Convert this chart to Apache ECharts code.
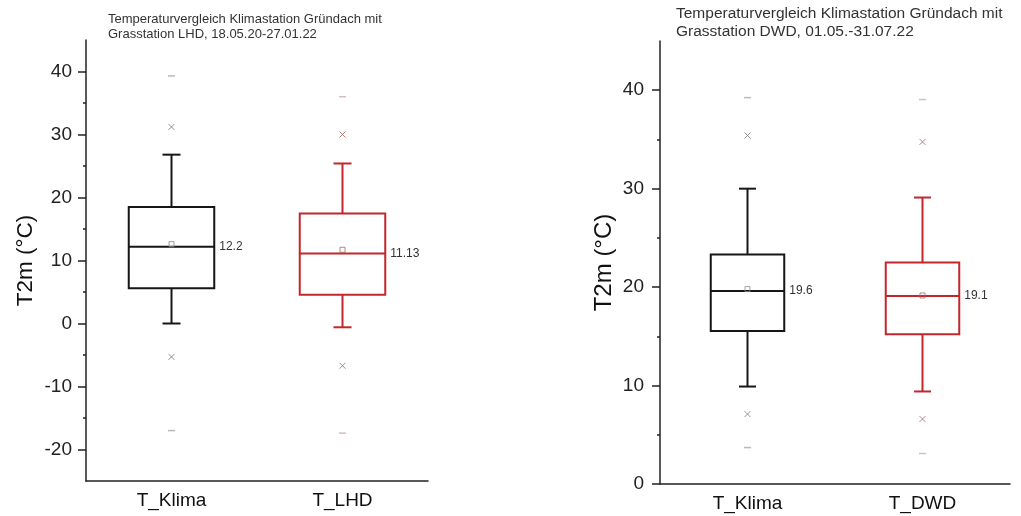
<!DOCTYPE html>
<html>
<head>
<meta charset="utf-8">
<script src="https://cdn.jsdelivr.net/npm/echarts@6/dist/echarts.min.js"></script>
<style>
html,body{margin:0;padding:0;background:#fff;}
#chart{width:1021px;height:516px;}
</style>
</head>
<body>
<div id="chart"></div>
<script>
// ---------- data ----------
const leftTitle = 'Temperaturvergleich Klimastation Gründach mit\nGrasstation LHD, 18.05.20-27.01.22';
const rightTitle = 'Temperaturvergleich Klimastation Gründach mit\nGrasstation DWD, 01.05.-31.07.22';
const yName = 'T2m (°C)';

const leftCategories = ['T_Klima', 'T_LHD'];
// [whiskerLow, Q1, median, Q3, whiskerHigh]
const leftStats = [[0, 5.6, 12.2, 18.5, 26.8], [-0.6, 4.55, 11.13, 17.45, 25.4]];
const leftMeans = [12.6, 11.7];
const leftCrossHigh = [31.2, 30.0];
const leftCrossLow = [-5.3, -6.7];
const leftDashHigh = [39.3, 36.0];
const leftDashLow = [-17.0, -17.4];
const leftMedianLabels = ['12.2', '11.13'];
const leftMajorTicks = [-20, -10, 0, 10, 20, 30, 40];
const leftMinorTicks = [-15, -5, 5, 15, 25, 35];

const rightCategories = ['T_Klima', 'T_DWD'];
const rightStats = [[9.9, 15.55, 19.6, 23.3, 30.0], [9.4, 15.2, 19.1, 22.5, 29.1]];
const rightMeans = [19.8, 19.15];
const rightCrossHigh = [35.4, 34.75];
const rightCrossLow = [7.1, 6.6];
const rightDashHigh = [39.25, 39.05];
const rightDashLow = [3.7, 3.1];
const rightMedianLabels = ['19.6', '19.1'];
const rightMajorTicks = [0, 10, 20, 30, 40];
const rightMinorTicks = [5, 15, 25, 35];

// ---------- styles ----------
const boxColors = ['#161616', '#c1272d'];
const crossColors = ['#7a7a7a', '#a86464'];
const dashColors = ['#a8a8a8', '#d4aaaa'];
const meanColors = ['#8a8a8a', '#a86464'];
const FONT = '"Liberation Sans", Arial, sans-serif';
const AXIS_COLOR = '#222';

function makeBoxRenderer(labels, boxFrac, capW) {
  return function (params, api) {
    const x = api.value(0);
    const pLo = api.coord([x, api.value(1)]);
    const pQ1 = api.coord([x, api.value(2)]);
    const pMed = api.coord([x, api.value(3)]);
    const pQ3 = api.coord([x, api.value(4)]);
    const pHi = api.coord([x, api.value(5)]);
    const bw = api.size([1, 0])[0] * boxFrac;
    const cx = pMed[0];
    const color = boxColors[params.dataIndex];
    const st = { stroke: color, lineWidth: 2, fill: null };
    return {
      type: 'group',
      children: [
        { type: 'line', shape: { x1: cx, y1: pHi[1], x2: cx, y2: pQ3[1] }, style: st },
        { type: 'line', shape: { x1: cx, y1: pQ1[1], x2: cx, y2: pLo[1] }, style: st },
        { type: 'line', shape: { x1: cx - capW / 2, y1: pHi[1], x2: cx + capW / 2, y2: pHi[1] }, style: st },
        { type: 'line', shape: { x1: cx - capW / 2, y1: pLo[1], x2: cx + capW / 2, y2: pLo[1] }, style: st },
        { type: 'rect', shape: { x: cx - bw / 2, y: pQ3[1], width: bw, height: pQ1[1] - pQ3[1] },
          style: { stroke: color, lineWidth: 2, fill: 'rgba(0,0,0,0)' } },
        { type: 'line', shape: { x1: cx - bw / 2, y1: pMed[1], x2: cx + bw / 2, y2: pMed[1] }, style: st },
        { type: 'text', x: cx + bw / 2 + 5, y: pMed[1],
          style: { text: labels[params.dataIndex], fill: '#333', font: '12px ' + FONT,
                   textAlign: 'left', textVerticalAlign: 'middle' } }
      ]
    };
  };
}

function scatterSeries(idx, values, colors, symbol, size, fillMode) {
  return {
    type: 'scatter', xAxisIndex: idx, yAxisIndex: idx * 2,
    symbol: symbol, symbolSize: size, silent: true, z: 5,
    data: values.map((v, i) => ({
      value: [i, v],
      itemStyle: fillMode === 'stroke'
        ? { color: 'rgba(0,0,0,0)', borderColor: colors[i], borderWidth: 1 }
        : { color: colors[i] }
    }))
  };
}

function seriesFor(idx, stats, means, crossHi, crossLo, dashHi, dashLo, labels, boxFrac, capW) {
  const crossPath = 'path://M0,0L10,10M10,0L0,10';
  return [
    {
      type: 'custom', xAxisIndex: idx, yAxisIndex: idx * 2,
      renderItem: makeBoxRenderer(labels, boxFrac, capW),
      encode: { x: 0, y: [1, 2, 3, 4, 5] },
      data: stats.map((s, i) => [i].concat(s)), z: 3
    },
    scatterSeries(idx, means, meanColors, 'rect', 5, 'stroke'),
    scatterSeries(idx, crossHi, crossColors, crossPath, 6, 'stroke'),
    scatterSeries(idx, crossLo, crossColors, crossPath, 6, 'stroke'),
    scatterSeries(idx, dashHi, dashColors, 'rect', [7, 1.5], 'fill'),
    scatterSeries(idx, dashLo, dashColors, 'rect', [7, 1.5], 'fill')
  ];
}

function yAxesFor(gridIndex, min, max, majors, minors, nameGap, labelMargin, nameSize) {
  return [
    {
      type: 'value', gridIndex: gridIndex, min: min, max: max, position: 'left',
      name: yName, nameLocation: 'middle', nameGap: nameGap, nameRotate: 90,
      nameTextStyle: { fontSize: nameSize, color: '#111', fontFamily: FONT },
      axisLine: { show: true, onZero: false, lineStyle: { color: AXIS_COLOR, width: 1.5 } },
      axisTick: { show: true, inside: false, length: 8, customValues: majors, lineStyle: { color: AXIS_COLOR, width: 1.5 } },
      axisLabel: { show: true, customValues: majors, fontSize: 19, color: '#222', fontFamily: FONT, margin: labelMargin },
      splitLine: { show: false }
    },
    {
      type: 'value', gridIndex: gridIndex, min: min, max: max, position: 'left',
      axisLine: { show: false, onZero: false },
      axisTick: { show: true, inside: false, length: 3, customValues: minors, lineStyle: { color: AXIS_COLOR, width: 1.5 } },
      axisLabel: { show: false },
      splitLine: { show: false }
    }
  ];
}

function xAxisFor(gridIndex, cats) {
  return {
    type: 'category', gridIndex: gridIndex, data: cats, position: 'bottom',
    axisLine: { show: true, onZero: false, lineStyle: { color: AXIS_COLOR, width: 1.5 } },
    axisTick: { show: false },
    axisLabel: { fontSize: 19, color: '#111', fontFamily: FONT, margin: 10 },
    splitLine: { show: false }
  };
}

const chart = echarts.init(document.getElementById('chart'), null, { renderer: 'canvas' });
chart.setOption({
  backgroundColor: '#ffffff',
  animation: false,
  title: [
    { text: leftTitle, left: 103, top: 7,
      textStyle: { fontSize: 13, fontWeight: 'normal', color: '#333', fontFamily: FONT, lineHeight: 15 } },
    { text: rightTitle, left: 671, top: 0,
      textStyle: { fontSize: 15.5, fontWeight: 'normal', color: '#333', fontFamily: FONT, lineHeight: 18 } }
  ],
  grid: [
    { left: 86, top: 40, width: 342, bottom: 35 },
    { left: 660, top: 41, width: 350, bottom: 32 }
  ],
  xAxis: [xAxisFor(0, leftCategories), xAxisFor(1, rightCategories)],
  yAxis: yAxesFor(0, -25, 45, leftMajorTicks, leftMinorTicks, 49, 14, 22.5)
    .concat(yAxesFor(1, 0, 45, rightMajorTicks, rightMinorTicks, 44, 16, 24)),
  series: seriesFor(0, leftStats, leftMeans, leftCrossHigh, leftCrossLow, leftDashHigh, leftDashLow, leftMedianLabels, 0.5, 18)
    .concat(seriesFor(1, rightStats, rightMeans, rightCrossHigh, rightCrossLow, rightDashHigh, rightDashLow, rightMedianLabels, 0.42, 17))
});
</script>
</body>
</html>
